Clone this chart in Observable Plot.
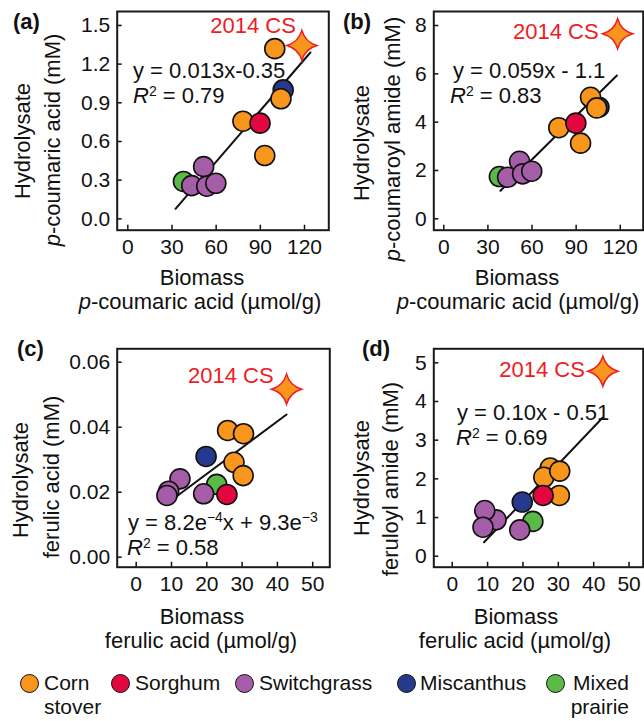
<!DOCTYPE html>
<html><head><meta charset="utf-8">
<script src="https://cdn.jsdelivr.net/npm/d3@7"></script>
<script src="https://cdn.jsdelivr.net/npm/@observablehq/plot@0.6"></script>
<style>
body{margin:0;background:#fff;font-family:"Liberation Sans",Arial,Helvetica,sans-serif;}
#wrap{position:relative;width:644px;height:721px;overflow:hidden;background:#fff;}
#wrap svg{position:absolute;left:0;top:0;}
.leg{position:absolute;font-size:21px;line-height:24px;color:#111;white-space:nowrap;}
.dotleg{position:absolute;width:17px;height:17px;border-radius:50%;border:1.5px solid #111;}
</style></head><body><div id="wrap"></div>
<script>
const FONT = '"Liberation Sans", Arial, Helvetica, sans-serif';
const groups = ["Corn stover","Sorghum","Switchgrass","Miscanthus","Mixed prairie"];
const groupColors = ["#F7951D","#E2073F","#A55DA8","#27398D","#5BB947"];

// panels (a),(b): biomass p-coumaric acid
const pcaGroup = ["Mixed prairie","Switchgrass","Switchgrass","Switchgrass","Switchgrass","Miscanthus","Corn stover","Corn stover","Corn stover","Corn stover","Sorghum"];
const pcaBiomass =    [37.8, 51.5, 43.4, 53.6, 59.8, 105.5, 99.8, 104, 78.2, 93, 89.8];
const pcaHydrolysate = [0.29, 0.405, 0.258, 0.253, 0.276, 1.0, 1.32, 0.931, 0.757, 0.491, 0.742];
const pcaAmide =       [1.75, 2.38, 1.72, 1.86, 1.97, 4.62, 5.03, 4.59, 3.77, 3.13, 3.96];

// panels (c),(d): biomass ferulic acid
const faGroup = ["Mixed prairie","Switchgrass","Switchgrass","Switchgrass","Switchgrass","Miscanthus","Corn stover","Corn stover","Corn stover","Corn stover","Sorghum"];
const faBiomass =      [22.8, 19.1, 12.4, 9.2, 8.7, 19.8, 27.7, 25.9, 30.4, 30.3, 25.7];
const faHydrolysate =  [0.0224, 0.0195, 0.0241, 0.0203, 0.0190, 0.0310, 0.0292, 0.0390, 0.0380, 0.0251, 0.0193];
const faAmide =        [0.90, 0.68, 0.94, 1.18, 0.75, 1.40, 2.28, 2.04, 2.20, 1.57, 1.57];

// 2014 corn stover (star)
const csLabel = "2014 CS";
const csPca = [118.2], csPcaHydro = [1.345], csPcaAmide = [7.66];
const csFa = [42.6], csFaHydro = [0.0517], csFaAmide = [4.78];

// regression line end points
const fitAx = [32.4, 124], fitAy = [0.078, 1.29];
const fitBx = [38.5, 117.7], fitBy = [1.16, 5.93];
const fitCx = [9.2, 42.6], fitCy = [0.0169, 0.0439];
const fitDx = [9.0, 42.5], fitDy = [0.36, 3.58];

// ticks
const pcaTicks = [0, 30, 60, 90, 120];
const faTicks = [0, 10, 20, 30, 40, 50];
const aTicks = [0, 0.3, 0.6, 0.9, 1.2, 1.5];
const bTicks = [0, 2, 4, 6, 8];
const cTicks = [0, 0.02, 0.04, 0.06];
const dTicks = [0, 1, 2, 3, 4, 5];

const star4 = {
  draw(ctx, size) {
    const R = Math.sqrt(size / Math.PI), c = 0.22 * R;
    ctx.moveTo(0, -R);
    ctx.quadraticCurveTo(c, -c, R, 0);
    ctx.quadraticCurveTo(c, c, 0, R);
    ctx.quadraticCurveTo(-c, c, -R, 0);
    ctx.quadraticCurveTo(-c, -c, 0, -R);
    ctx.closePath();
  }
};

const W = 644, H = 721;
const wrap = document.getElementById("wrap");

function panel(o) {
  const pts = o.xs.map((x, i) => ({x, y: o.ys[i], g: o.gs[i]}));
  const fit = o.fx.map((x, i) => ({x, y: o.fy[i]}));
  const cs = o.csx.map((x, i) => ({x, y: o.csy[i]}));
  const pw = o.r - o.l, ph = o.b - o.t;
  const svg = Plot.plot({
    width: W, height: H,
    marginLeft: o.l, marginRight: W - o.r, marginTop: o.t, marginBottom: H - o.b,
    style: {background: "transparent", fontFamily: FONT, fontSize: "21px", color: "#111", overflow: "visible"},
    x: {domain: o.xd, ticks: o.xt, tickSize: 0, tickPadding: 9, label: null},
    y: {domain: o.yd, ticks: o.yt, tickSize: 0, tickPadding: 7, label: null, tickFormat: o.yf},
    color: {domain: groups, range: groupColors},
    marks: [
      Plot.tickX(o.xt, {x: d => d, insetTop: ph - 5, stroke: "#111", strokeWidth: 1.5}),
      Plot.tickY(o.yt, {y: d => d, insetRight: pw - 5, stroke: "#111", strokeWidth: 1.5}),
      Plot.line(fit, {x: "x", y: "y", stroke: "#111", strokeWidth: 2}),
      Plot.dot(pts, {x: "x", y: "y", fill: "g", r: 10, stroke: "#111", strokeWidth: 1.6}),
      Plot.dot(cs, {x: "x", y: "y", symbol: star4, r: 15, fill: "#F7951D", stroke: "#EE1C24", strokeWidth: 1.5}),
      Plot.text(cs, {x: "x", y: "y", text: () => csLabel, dx: o.ldx, dy: o.ldy, textAnchor: "end", lineAnchor: "middle", fill: "#EE1C24", fontSize: 22}),
      Plot.frame({stroke: "#1a1a1a", strokeWidth: 2})
    ]
  });
  svg.style.position = "absolute";
  wrap.appendChild(svg);
  return svg;
}

function addText(svg, x, y, parts, opt = {}) {
  const t = d3.select(svg).append("text")
    .attr("font-family", FONT)
    .attr("font-size", opt.size || 22)
    .attr("font-weight", opt.weight || "normal")
    .attr("fill", "#111")
    .attr("text-anchor", opt.anchor || "start");
  if (opt.rotate) t.attr("transform", `translate(${x},${y}) rotate(-90)`).attr("dominant-baseline", "central");
  else t.attr("x", x).attr("y", y);
  for (const p of parts) {
    const s = t.append("tspan").text(p.t);
    if (p.i) s.attr("font-style", "italic");
    if (p.s) s.attr("font-size", p.s);
    if (p.dy) s.attr("dy", p.dy);
  }
}
const R2 = v => [{t: "R", i: true}, {t: "2", s: 14, dy: -7}, {t: " = " + v, dy: 7}];

// (a)
const sa = panel({xs: pcaBiomass, ys: pcaHydrolysate, gs: pcaGroup, fx: fitAx, fy: fitAy, csx: csPca, csy: csPcaHydro,
  l: 116.7, t: 11, r: 328.3, b: 229.7, xd: [-7.2, 136.5], yd: [-0.088, 1.608], xt: pcaTicks, yt: aTicks, yf: d3.format(".1f"), ldx: -6, ldy: -19});
addText(sa, 13, 29, [{t: "(a)"}], {weight: "bold"});
addText(sa, 22, 141, [{t: "Hydrolysate"}], {rotate: true, anchor: "middle"});
addText(sa, 52, 140, [{t: "p", i: true}, {t: "-coumaric acid (mM)"}], {rotate: true, anchor: "middle"});
addText(sa, 202, 285, [{t: "Biomass"}], {anchor: "middle"});
addText(sa, 200, 309, [{t: "p", i: true}, {t: "-coumaric acid (\u00b5mol/g)"}], {anchor: "middle"});
addText(sa, 133, 78, [{t: "y = 0.013x-0.35"}]);
addText(sa, 133, 103, R2("0.79"));

// (b)
const sb = panel({xs: pcaBiomass, ys: pcaAmide, gs: pcaGroup, fx: fitBx, fy: fitBy, csx: csPca, csy: csPcaAmide,
  l: 433.3, t: 11, r: 642.7, b: 229.7, xd: [-6.8, 135.6], yd: [-0.472, 8.58], xt: pcaTicks, yt: bTicks, yf: d3.format("d"), ldx: -19, ldy: -2});
addText(sb, 343, 29, [{t: "(b)"}], {weight: "bold"});
addText(sb, 361, 143, [{t: "Hydrolysate"}], {rotate: true, anchor: "middle"});
addText(sb, 392, 139, [{t: "p", i: true}, {t: "-coumaroyl amide (mM)"}], {rotate: true, anchor: "middle"});
addText(sb, 517, 285, [{t: "Biomass"}], {anchor: "middle"});
addText(sb, 518, 309, [{t: "p", i: true}, {t: "-coumaric acid (\u00b5mol/g)"}], {anchor: "middle"});
addText(sb, 453, 78, [{t: "y = 0.059x - 1.1"}]);
addText(sb, 450, 103, R2("0.83"));

// (c)
const sc = panel({xs: faBiomass, ys: faHydrolysate, gs: faGroup, fx: fitCx, fy: fitCy, csx: csFa, csy: csFaHydro,
  l: 116.7, t: 348.3, r: 329.3, b: 566.7, xd: [-5.38, 54.84], yd: [-0.00308, 0.06412], xt: faTicks, yt: cTicks, yf: d3.format(".2f"), ldx: -13, ldy: -13});
addText(sc, 17, 356, [{t: "(c)"}], {weight: "bold"});
addText(sc, 20, 480, [{t: "Hydrolysate"}], {rotate: true, anchor: "middle"});
addText(sc, 51, 477, [{t: "ferulic acid (mM)"}], {rotate: true, anchor: "middle"});
addText(sc, 202, 624, [{t: "Biomass"}], {anchor: "middle"});
addText(sc, 201, 648, [{t: "ferulic acid (\u00b5mol/g)"}], {anchor: "middle"});
addText(sc, 128, 530, [{t: "y = 8.2e"}, {t: "\u22124", s: 14, dy: -8}, {t: "x + 9.3e", dy: 8}, {t: "\u22123", s: 14, dy: -8}]);
addText(sc, 127, 555, R2("0.58"));

// (d)
const sd = panel({xs: faBiomass, ys: faAmide, gs: faGroup, fx: fitDx, fy: fitDy, csx: csFa, csy: csFaAmide,
  l: 433.3, t: 348.3, r: 642.7, b: 566.7, xd: [-5.21, 54.0], yd: [-0.284, 5.362], xt: faTicks, yt: dTicks, yf: d3.format("d"), ldx: -18, ldy: -1});
addText(sd, 362, 356, [{t: "(d)"}], {weight: "bold"});
addText(sd, 361, 478, [{t: "Hydrolysate"}], {rotate: true, anchor: "middle"});
addText(sd, 390, 479, [{t: "feruloyl amide (mM)"}], {rotate: true, anchor: "middle"});
addText(sd, 516, 624, [{t: "Biomass"}], {anchor: "middle"});
addText(sd, 515, 648, [{t: "ferulic acid (\u00b5mol/g)"}], {anchor: "middle"});
addText(sd, 457, 420, [{t: "y = 0.10x - 0.51"}]);
addText(sd, 456, 445, R2("0.69"));

// legend
const legCircleX = [30, 121, 245, 407, 556];
const legTextX = [44, 135, 259, 420, 568];
groups.forEach((g, i) => {
  const c = document.createElement("div");
  c.className = "dotleg";
  c.style.left = (legCircleX[i] - 10) + "px";
  c.style.top = (684 - 10) + "px";
  c.style.background = groupColors[i];
  wrap.appendChild(c);
  const t = document.createElement("div");
  t.className = "leg";
  const words = g.split(" ");
  t.innerHTML = words.length > 1 ? words[0] + "<br>" + words.slice(1).join(" ") : g;
  t.style.left = legTextX[i] + "px";
  t.style.top = (684 - 13) + "px";
  if (i === 4) { t.style.textAlign = "right"; t.style.left = "auto"; t.style.right = (644 - 629) + "px"; }
  wrap.appendChild(t);
});
</script></body></html>
